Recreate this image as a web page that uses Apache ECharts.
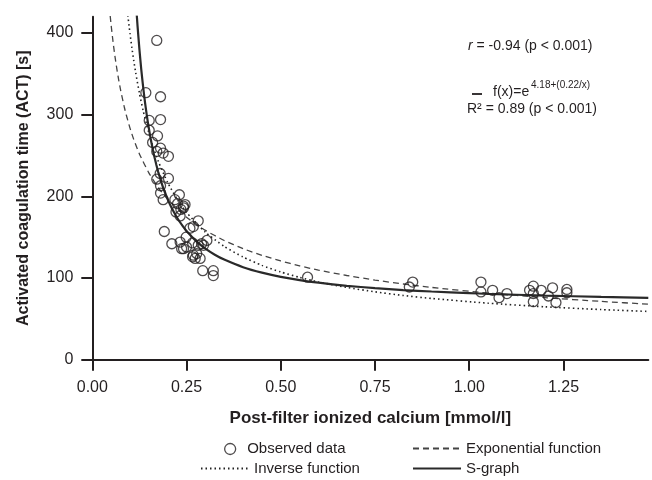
<!DOCTYPE html>
<html><head><meta charset="utf-8">
<script src="https://cdn.jsdelivr.net/npm/echarts@6/dist/echarts.min.js"></script>
<style>html,body{margin:0;padding:0;background:#fff}#c{width:652px;height:480px}</style>
</head><body><div id="c"></div>
<script>
// Observed data (post-filter ionized calcium [mmol/l], ACT [s])
const obsCalcium = [0.171,0.142,0.181,0.181,0.151,0.151,0.173,0.160,0.181,0.171,0.188,0.202,
  0.180,0.202,0.171,0.181,0.181,0.188,0.231,0.219,0.242,0.242,0.222,0.233,0.226,0.235,0.246,
  0.281,0.268,0.259,0.191,0.249,0.304,0.295,0.211,0.233,0.237,0.250,0.266,0.281,0.290,0.242,
  0.268,0.273,0.277,0.266,0.286,0.293,0.321,0.321,0.571,
  0.841,0.850,1.031,1.031,1.062,1.079,1.100,1.160,1.170,1.170,1.170,1.191,1.210,1.221,1.230,1.259,1.259];
const obsACT = [391,327,322,294,293,281,274,266,259,255,253,249,
  228,222,221,213,204,196,202,196,188,186,181,176,191,184,190,
  170,163,161,157,150,146,140,142,144,136,138,143,140,142,136,
  128,124,130,126,124,109,109,103,101,
  89,95,95,83,85,76,81,85,90,81,71,85,78,88,70,86,82];

// S-graph: f(x)=e^(4.18+0.22/x)
const sGraphX = [0.118,0.12,0.125,0.13,0.135,0.14,0.145,0.15,0.155,0.16,0.165,0.17,0.175,0.185,0.19,0.2,0.21,0.225,0.24,0.25,0.275,0.3,0.325,0.35,0.4,0.45,0.5,0.55,0.6,0.675,0.75,0.825,0.9,1.0,1.05,1.2,1.35,1.475];
const sGraphY = [421.8,408.8,379.9,355.0,333.5,314.5,298.0,283.4,270.2,258.5,248.0,238.4,229.7,214.7,208.1,196.4,186.3,173.8,163.5,157.6,145.5,136.0,128.6,122.6,113.3,106.6,101.5,97.5,94.3,90.5,87.7,85.3,83.5,81.5,80.6,78.5,76.9,75.8];
// Exponential function (dashed)
const expFnX = [0.0475,0.05,0.055,0.06,0.065,0.07,0.075,0.085,0.09,0.1,0.11,0.125,0.15,0.175,0.2,0.25,0.3,0.35,0.4,0.45,0.5,0.55,0.6,0.675,0.75,0.825,0.9,1.05,1.2,1.35,1.475];
const expFnY = [420.8,409.5,389.4,371.7,356.4,342.7,330.4,309.1,299.9,283.6,269.7,252.0,228.8,210.8,196.4,174.5,158.4,146.0,136.0,127.8,120.9,114.9,109.7,103.1,97.5,92.7,88.5,81.6,76.0,71.4,68.0];
// Inverse function (dotted)
const invFnX = [0.0942,0.0975,0.1,0.105,0.11,0.115,0.125,0.135,0.15,0.16,0.175,0.2,0.225,0.25,0.3,0.35,0.4,0.45,0.5,0.55,0.6,0.675,0.75,0.825,0.9,1.05,1.2,1.35,1.475];
const invFnY = [422,408.8,399.4,382.0,366.2,351.8,326.4,304.8,277.7,262.5,243.0,216.9,196.6,180.4,156.1,138.7,125.7,115.5,107.4,100.8,95.2,88.5,83.1,78.6,75.0,69.2,64.8,61.4,59.1];

const xTicks = [0, 0.25, 0.5, 0.75, 1.0, 1.25];
const yTicks = [0, 100, 200, 300, 400];

const FONT = '"Liberation Sans", Arial, Helvetica, sans-serif';
const INK = '#231f20';
const zip = (xs, ys) => xs.map((x, i) => [x, ys[i]]);

const chart = echarts.init(document.getElementById('c'), null, {renderer: 'canvas'});
const legendBase = {orient: 'horizontal', padding: 0, itemGap: 0, textStyle: {fontFamily: FONT, fontSize: 15, color: INK}, selectedMode: false};
const noSymbol = {color: 'rgba(0,0,0,0)', borderWidth: 0, borderColor: 'rgba(0,0,0,0)'};

chart.setOption({
  animation: false,
  backgroundColor: '#fff',
  grid: {left: 92.3, top: 16.7, width: 556, height: 343, containLabel: false, outerBoundsMode: 'none'},
  xAxis: {
    type: 'value', min: 0, max: 1.475,
    name: 'Post-filter ionized calcium [mmol/l]', nameLocation: 'middle', nameGap: 50,
    nameTextStyle: {fontFamily: FONT, fontSize: 17, fontWeight: 'bold', color: INK},
    axisLine: {show: true, onZero: false, lineStyle: {color: INK, width: 2}},
    axisTick: {show: true, length: 11, customValues: xTicks, lineStyle: {color: INK, width: 2}},
    axisLabel: {customValues: xTicks, margin: 20, fontFamily: FONT, fontSize: 16, color: INK, formatter: v => v.toFixed(2)},
    splitLine: {show: false}
  },
  yAxis: {
    type: 'value', min: 0, max: 420,
    name: 'Activated coagulation time (ACT) [s]', nameLocation: 'middle', nameGap: 61,
    nameTextStyle: {fontFamily: FONT, fontSize: 16, fontWeight: 'bold', color: INK},
    axisLine: {show: true, onZero: false, lineStyle: {color: INK, width: 2}},
    axisTick: {show: true, length: 11, customValues: yTicks, lineStyle: {color: INK, width: 2}},
    axisLabel: {customValues: yTicks, margin: 19, fontFamily: FONT, fontSize: 16, color: INK},
    splitLine: {show: false}
  },
  legend: [
    Object.assign({}, legendBase, {left: 224, top: 441.5, itemWidth: 24, itemHeight: 11, data: [{name: 'Observed data', icon: 'circle'}],
      itemStyle: {color: 'rgba(255,255,255,0)', borderColor: INK, borderWidth: 1.3}}),
    Object.assign({}, legendBase, {left: 412, top: 441, itemWidth: 48, itemHeight: 12, data: ['Exponential function'], itemStyle: noSymbol}),
    Object.assign({}, legendBase, {left: 200, top: 461, itemWidth: 48, itemHeight: 12, data: ['Inverse function'], itemStyle: noSymbol}),
    Object.assign({}, legendBase, {left: 412, top: 461, itemWidth: 48, itemHeight: 12, data: ['S-graph'], itemStyle: noSymbol})
  ],
  series: [
    {name: 'Exponential function', type: 'line', data: zip(expFnX, expFnY), showSymbol: false, symbol: 'none',
      smooth: 0.2, itemStyle: {color: '#444'}, lineStyle: {color: '#444', width: 1.3, type: [6, 4]}, z: 2},
    {name: 'Inverse function', type: 'line', data: zip(invFnX, invFnY), showSymbol: false, symbol: 'none',
      smooth: 0.2, itemStyle: {color: '#222'}, lineStyle: {color: '#222', width: 1.6, type: [1.5, 3]}, z: 2},
    {name: 'S-graph', type: 'line', data: zip(sGraphX, sGraphY), showSymbol: false, symbol: 'none',
      smooth: 0.2, itemStyle: {color: '#2a2a2a'}, lineStyle: {color: '#2a2a2a', width: 2.2}, z: 3},
    {name: 'Observed data', type: 'scatter', data: zip(obsCalcium, obsACT), symbol: 'circle', symbolSize: 10,
      itemStyle: {color: 'rgba(255,255,255,0)', borderColor: INK, borderWidth: 1.3}, z: 4}
  ],
  graphic: [
    {type: 'text', x: 468, y: 46, style: {text: '{i|r} = -0.94 (p < 0.001)', font: '14px ' + FONT, fill: INK, verticalAlign: 'middle',
      rich: {i: {fontStyle: 'italic', fontSize: 14, fontFamily: FONT, fill: INK}}}},
    {type: 'line', shape: {x1: 472, y1: 94, x2: 482, y2: 94}, style: {stroke: INK, lineWidth: 1.8}},
    {type: 'text', x: 493, y: 92, style: {text: 'f(x)=e', font: '14px ' + FONT, fill: INK, verticalAlign: 'middle'}},
    {type: 'text', x: 531, y: 85, style: {text: '4.18+(0.22/x)', font: '10px ' + FONT, fill: INK, verticalAlign: 'middle'}},
    {type: 'text', x: 467, y: 109, style: {text: 'R² = 0.89 (p < 0.001)', font: '14px ' + FONT, fill: INK, verticalAlign: 'middle'}}
  ]
});
</script></body></html>
